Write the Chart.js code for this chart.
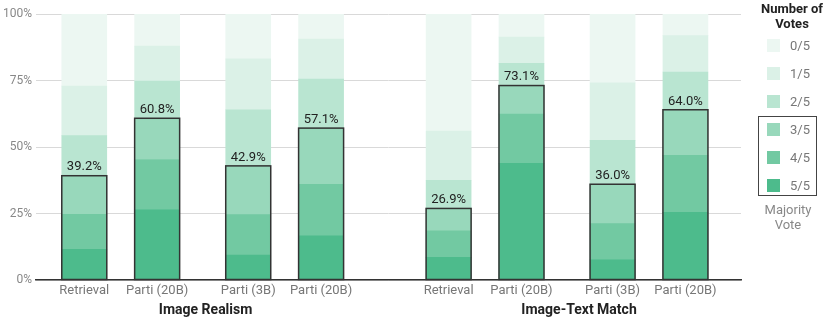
<!DOCTYPE html>
<html>
<head>
<meta charset="utf-8">
<script src="https://cdn.jsdelivr.net/npm/chart.js@4"></script>
<style>
  html, body { margin: 0; padding: 0; background: #fff; }
  #wrap { position: relative; width: 831px; height: 320px; font-family: Roboto, sans-serif; }
  #legend { position: absolute; left: 750px; top: 0; width: 81px; height: 320px; }
  .ttl { position: absolute; left: 0; width: 84px; top: 1px; text-align: center; font-weight: bold; font-size: 13px; line-height: 15px; color: #222; }
  .row { position: absolute; left: 17px; height: 14px; font-size: 13px; line-height: 14px; color: #777; }
  .row span { display: inline-block; width: 13px; height: 13px; vertical-align: top; margin-right: 10px; }
  .box { position: absolute; left: 8px; top: 116px; width: 57px; height: 78px; border: 1.5px solid #444; }
  .maj { position: absolute; left: 8px; width: 60px; top: 202px; text-align: center; font-size: 13px; line-height: 15px; color: #888; }
</style>
</head>
<body>
<div id="wrap">
  <canvas id="chartCanvas" width="831" height="320"></canvas>
  <div id="legend"></div>
</div>
<script>
// categories and group titles
const categories = ['Retrieval', 'Parti (20B)', 'Parti (3B)', 'Parti (20B)', 'Retrieval', 'Parti (20B)', 'Parti (3B)', 'Parti (20B)'];
const xPos = [0, 4, 9, 13, 20, 24, 29, 33]; // slot of each bar on the x axis
const groups = ['Image Realism', 'Image-Text Match'];
const groupPos = [6.66, 27.16];

// share of votes (%) per bar, bottom to top
const votes5 = [11.5, 26.5, 9.4, 16.6, 8.5, 43.9, 7.7, 25.4];
const votes4 = [13.2, 18.8, 15.2, 19.4, 10.0, 18.5, 13.5, 21.5];
const votes3 = [14.5, 15.5, 18.3, 21.1, 8.4, 10.7, 14.8, 17.1];
const votes2 = [15.1, 14.0, 21.1, 18.4, 10.6, 8.4, 16.5, 14.2];
const votes1 = [18.6, 13.1, 19.1, 15.1, 18.5, 9.8, 21.6, 13.7];
const votes0 = [27.1, 12.1, 16.9, 9.4, 44.0, 8.7, 25.9, 8.1];
const majority = [39.2, 60.8, 42.9, 57.1, 26.9, 73.1, 36.0, 64.0];

const yTicks = [0, 25, 50, 75, 100];
const voteLabels = ['5/5', '4/5', '3/5', '2/5', '1/5', '0/5'];
const colors = ['#4dbb8c', '#72c9a2', '#98d8bb', '#b9e5d1', '#dbf1e7', '#ecf7f2'];

Chart.defaults.font.family = 'Roboto, sans-serif';

const series = [votes5, votes4, votes3, votes2, votes1, votes0];
const datasets = series.map((vals, k) => ({
    label: voteLabels[k],
    data: vals.map((v, i) => ({ x: xPos[i], y: v })),
    backgroundColor: colors[k],
    borderWidth: 0,
    barThickness: 45
}));

// outline round the majority part and its % label
const majorityBox = {
    id: 'majorityBox',
    afterDatasetsDraw(chart) {
        const ctx = chart.ctx;
        const bottomMeta = chart.getDatasetMeta(0);
        const topMeta = chart.getDatasetMeta(2);
        ctx.save();
        bottomMeta.data.forEach((el, i) => {
            const top = topMeta.data[i].y;
            const left = el.x - el.width / 2;
            ctx.strokeStyle = '#333';
            ctx.lineWidth = 1.5;
            ctx.strokeRect(left, top, el.width, el.base - top);
            ctx.fillStyle = '#222';
            ctx.font = '13px Roboto, sans-serif';
            ctx.textAlign = 'center';
            ctx.textBaseline = 'bottom';
            ctx.fillText(majority[i].toFixed(1) + '%', el.x, top - 2);
        });
        ctx.restore();
    }
};

new Chart(document.getElementById('chartCanvas'), {
    type: 'bar',
    data: { datasets: datasets },
    options: {
        responsive: false,
        animation: false,
        layout: { padding: { top: 14, right: 90, left: 0, bottom: 0 } },
        plugins: { legend: { display: false }, tooltip: { enabled: false } },
        scales: {
            x: {
                type: 'linear',
                stacked: true,
                offset: false,
                min: -2.65,
                max: 36.05,
                weight: 0,
                afterBuildTicks: axis => { axis.ticks = xPos.map(v => ({ value: v })); },
                afterFit: axis => { axis.height = 19; },
                ticks: {
                    callback: (v, i) => categories[i],
                    color: '#777',
                    font: { size: 13 },
                    padding: 3,
                    maxRotation: 0,
                    autoSkip: false
                },
                grid: { display: false, drawTicks: false, tickLength: 0 },
                border: { display: true, color: '#333', width: 1.5 }
            },
            groupAxis: {
                type: 'linear',
                axis: 'x',
                position: 'bottom',
                offset: false,
                min: -2.65,
                max: 36.05,
                weight: 1,
                afterBuildTicks: axis => { axis.ticks = groupPos.map(v => ({ value: v })); },
                afterFit: axis => { axis.height = 21; },
                ticks: {
                    callback: (v, i) => groups[i],
                    color: '#222',
                    font: { size: 14, weight: 'bold' },
                    padding: 3,
                    maxRotation: 0,
                    autoSkip: false
                },
                grid: { display: false, drawTicks: false, tickLength: 0 },
                border: { display: false }
            },
            y: {
                stacked: true,
                min: 0,
                max: 100,
                afterBuildTicks: axis => { axis.ticks = yTicks.map(v => ({ value: v })); },
                afterFit: axis => { axis.width = 36; },
                ticks: {
                    callback: v => v + '%',
                    color: '#888',
                    font: { size: 12 },
                    padding: 4
                },
                grid: { color: '#d9d9d9', lineWidth: 1, drawTicks: false },
                border: { display: false }
            }
        }
    },
    plugins: [majorityBox]
});

// legend on the right
const legend = document.getElementById('legend');
let html = '<div class="ttl">Number of<br>Votes</div>';
const order = [5, 4, 3, 2, 1, 0];
order.forEach((k, r) => {
    html += '<div class="row" style="top:' + (39 + r * 28) + 'px"><span style="background:' + colors[k] + '"></span>' + voteLabels[k] + '</div>';
});
html += '<div class="box"></div><div class="maj">Majority<br>Vote</div>';
legend.innerHTML = html;
</script>
</body>
</html>
